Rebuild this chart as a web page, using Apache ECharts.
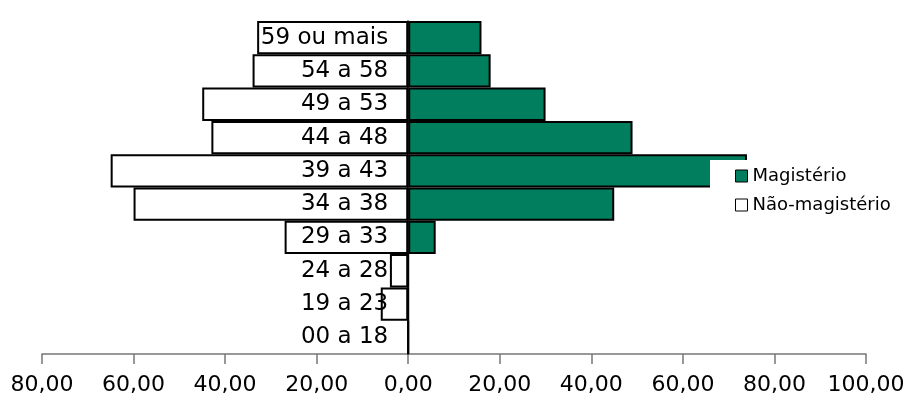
<!DOCTYPE html>
<html>
<head>
<meta charset="utf-8">
<script src="https://cdn.jsdelivr.net/npm/echarts@6/dist/echarts.min.js"></script>
<style>
  html, body { margin: 0; padding: 0; background: #fff; }
  #chart { width: 907px; height: 402px; }
</style>
</head>
<body>
<div id="chart"></div>
<script>
// faixas etárias, de baixo para cima
const faixas = ["00 a 18", "19 a 23", "24 a 28", "29 a 33", "34 a 38", "39 a 43", "44 a 48", "49 a 53", "54 a 58", "59 ou mais"];
const magisterio = [0, 0, 0, 6, 45, 74, 49, 30, 18, 16];
const naoMagisterio = [0, 6, 4, 27, 60, 65, 43, 45, 34, 33];
const ticks = [-80, -60, -40, -20, 0, 20, 40, 60, 80, 100];

const fonte = "DejaVu Sans";
const verde = "#007E5E";

// eixo das faixas fica no zero: desloca a partir da borda esquerda do grid
const gridLeft = 42, gridRight = 41;
const plotW = 907 - gridLeft - gridRight;
const zeroOffset = plotW * (0 - ticks[0]) / (ticks[ticks.length - 1] - ticks[0]);

const chart = echarts.init(document.getElementById("chart"));
chart.setOption({
  animation: false,
  grid: { left: gridLeft, right: gridRight, top: 21, bottom: 48, containLabel: false, outerBoundsMode: "none" },
  legend: {
    left: 710,
    top: 160,
    orient: "vertical",
    backgroundColor: "#fff",
    padding: [7, 12, 14, 25],
    itemGap: 11,
    itemWidth: 12,
    itemHeight: 12,
    icon: "rect",
    itemStyle: { borderWidth: 1, borderColor: "#000" },
    textStyle: { fontFamily: fonte, fontSize: 18, color: "#000" },
    data: ["Magistério", "Não-magistério"]
  },
  xAxis: {
    type: "value",
    min: ticks[0],
    max: ticks[ticks.length - 1],
    interval: 20,
    splitLine: { show: false },
    axisLine: { show: true, lineStyle: { color: "#777", width: 1.5 } },
    axisTick: { show: true, length: 10, lineStyle: { color: "#777", width: 1.5 } },
    axisLabel: {
      margin: 20,
      fontFamily: fonte,
      fontSize: 22,
      color: "#000",
      formatter: (v) => Math.abs(v).toFixed(2).replace(".", ",")
    }
  },
  yAxis: {
    type: "category",
    data: faixas,
    z: 10,
    offset: -zeroOffset,
    axisLine: { show: true, onZero: false, lineStyle: { color: "#000", width: 1.5 } },
    axisTick: { show: false },
    axisLabel: { margin: 20, fontFamily: fonte, fontSize: 23, color: "#000" }
  },
  series: [
    {
      name: "Magistério",
      type: "bar",
      data: magisterio,
      barWidth: "100%",
      barGap: "-100%",
      barCategoryGap: "0%",
      itemStyle: { color: verde, borderColor: "#000", borderWidth: 2 }
    },
    {
      name: "Não-magistério",
      type: "bar",
      data: naoMagisterio.map((v) => -v),
      barWidth: "100%",
      barGap: "-100%",
      barCategoryGap: "0%",
      itemStyle: { color: "#fff", borderColor: "#000", borderWidth: 2 }
    }
  ]
});
</script>
</body>
</html>
